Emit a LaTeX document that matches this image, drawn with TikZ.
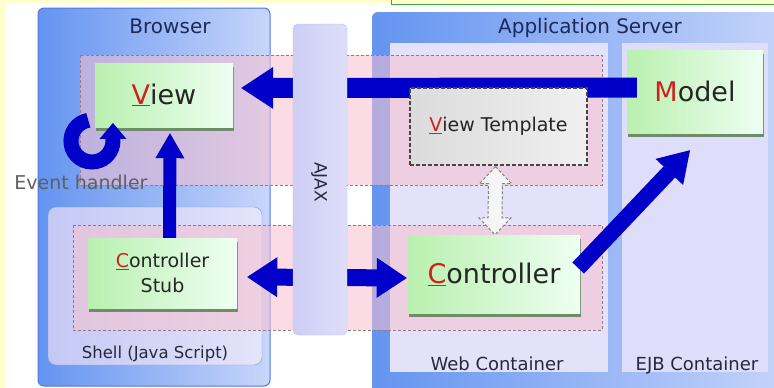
\documentclass[tikz,border=0pt]{standalone}
\usepackage{fontspec}
\setmainfont{DejaVu Sans}
\usetikzlibrary{arrows.meta,shadows,calc}
\definecolor{panelL}{RGB}{100,148,240}
\definecolor{panelR}{RGB}{200,214,250}
\definecolor{panelEdge}{RGB}{80,120,220}
\definecolor{contfill}{RGB}{228,226,250}
\definecolor{contfillB}{RGB}{222,222,250}
\definecolor{shellL}{RGB}{196,200,244}
\definecolor{shellR}{RGB}{228,228,250}
\definecolor{shellEdge}{RGB}{130,150,225}
\definecolor{bandpink}{RGB}{248,192,206}
\definecolor{banddash}{RGB}{150,120,135}
\definecolor{greenL}{RGB}{185,240,175}
\definecolor{greenR}{RGB}{238,255,242}
\definecolor{shadowgreen}{RGB}{110,140,105}
\definecolor{labelnavy}{RGB}{28,42,90}
\definecolor{contnavy}{RGB}{40,40,60}
\definecolor{initred}{RGB}{210,30,30}
\definecolor{arrowblue}{RGB}{0,0,200}
\definecolor{bgyellow}{RGB}{255,255,205}
\definecolor{topgreen}{RGB}{60,170,60}
\definecolor{ajaxL}{RGB}{206,206,246}
\definecolor{ajaxR}{RGB}{222,222,250}
\definecolor{ajaxEdge}{RGB}{190,190,235}
\definecolor{evgray}{RGB}{95,95,100}
\definecolor{dashgray}{RGB}{70,70,70}
\definecolor{dotgray}{RGB}{130,130,130}
\tikzset{
  greenbox/.style={shape=rectangle, inner sep=0pt, left color=greenL, right color=greenR, draw=none,
    drop shadow={fill=shadowgreen, opacity=1, shadow xshift=1pt, shadow yshift=-4pt},
    text=black!85, align=center},
  bigfont/.style={font=\fontsize{27}{32}\selectfont},
  midfont/.style={font=\fontsize{19}{25}\selectfont},
  panellabel/.style={font=\fontsize{20}{24}\selectfont, text=labelnavy, anchor=base, inner sep=0pt},
  contlabel/.style={font=\fontsize{18}{22}\selectfont, text=contnavy, anchor=base, inner sep=0pt},
  shelllabel/.style={font=\fontsize{16.5}{20}\selectfont, text=contnavy, anchor=base, inner sep=0pt},
  evlabel/.style={font=\fontsize{19}{22}\selectfont, text=evgray, anchor=base, inner sep=0pt},
  band/.style={fill=bandpink, fill opacity=0.55, draw=banddash, dash pattern=on 3pt off 2pt, line width=0.8pt},
  bluepen/.style={draw=arrowblue},
  vtempbox/.style={shape=rectangle, inner sep=0pt, left color=black!14, right color=black!6,
    draw=dashgray, dash pattern=on 4pt off 2pt, line width=1.2pt, text=black!85,
    font=\fontsize{19}{23}\selectfont},
  ajaxbar/.style={shape=rectangle, inner sep=0pt, rounded corners=5pt, left color=ajaxL, right color=ajaxR, draw=ajaxEdge},
  ajaxlabel/.style={font=\fontsize{17}{20}\selectfont, text=contnavy, inner sep=0pt},
  dotarrow/.style={fill=black!4, draw=dotgray, dash pattern=on 3pt off 2pt, line width=1pt}
}
\begin{document}
\begin{tikzpicture}[x=1pt,y=-1pt]
\useasboundingbox (0,0) rectangle (774,388);
\fill[white] (0,0) rectangle (774,388);
\fill[bgyellow] (0,0) rectangle (6,388);
\fill[bgyellow] (0,0) rectangle (392,3);
\filldraw[fill=bgyellow, draw=topgreen, line width=1pt] (391.5,-6) rectangle (780,4);

% panels
\shade[left color=panelL, right color=panelR, rounded corners=6pt] (38,8) rectangle (270,386);
\draw[panelEdge, line width=1pt, rounded corners=6pt] (38,8) rectangle (270,386);
\shade[left color=panelL, right color=panelR, rounded corners=6pt] (372,12) rectangle (800,400);
\fill[contfill] (390,43) rectangle (608,372);
\fill[contfillB] (622,43) rectangle (768,372);
\shade[left color=shellL, right color=shellR, rounded corners=8pt, draw=shellEdge] (48,207) rectangle (262,365);

% panel labels
\node[panellabel] (lbBrowser) at (170,33) {Browser};
\node[panellabel] (lbApp) at (590,33) {Application Server};
\node[contlabel] (lbWeb) at (497,370) {Web Container};
\node[contlabel] (lbEjb) at (697,370) {EJB Container};
\node[shelllabel] (lbShell) at (155,358) {Shell (Java Script)};

% bands
\path[band] (80,55) rectangle (602,185);
\path[band] (73,225) rectangle (602,330);

% boxes
\node[greenbox, bigfont, minimum width=138pt, minimum height=64pt] (view) at (164,95) {\textcolor{initred}{\underline{V}}iew};
\node[greenbox, midfont, minimum width=149pt, minimum height=70pt] (stub) at (162.5,273) {\textcolor{initred}{\underline{C}}ontroller\\Stub};
\node[greenbox, bigfont, minimum width=172pt, minimum height=78pt] (ctrl) at (494,274) {\textcolor{initred}{\underline{C}}ontroller};
\node[greenbox, bigfont, minimum width=136pt, minimum height=83pt] (model) at (695,91.5) {\textcolor{initred}{M}odel};

% blue arrows
\draw[bluepen, line width=20pt, -{Triangle[width=42pt,length=32pt,line width=0pt]}] ([shift={(10,-4)}]model.west) -- ([shift={(8,-7)}]view.east);
\draw[bluepen, line width=13pt, -{Triangle[width=29pt,length=25pt,line width=0pt]}] ([shift={(7,0)}]stub.north) -- ([shift={(6,6)}]view.south);
\draw[bluepen, line width=17pt, {Triangle[width=40pt,length=30pt,line width=0pt]}-{Triangle[width=40pt,length=30pt,line width=0pt]}] ([shift={(10,4)}]stub.east) -- ([shift={(-1,4)}]ctrl.west);
\draw[bluepen, line width=16pt, -{Triangle[width=38pt,length=30pt,line width=0pt]}] ([shift={(-2,-6)}]ctrl.east) -- ([shift={(-5,17)}]model.south);

% event handler loop
\draw[bluepen, line width=15pt, -{Triangle[width=27pt,length=16pt,line width=0pt]}] (88.3,120.3) arc[start angle=-100, end angle=-360, radius=21] -- ++(0,-18);
\node[evlabel] (evh) at (81,189) {Event handler};

% view template
\node[vtempbox, minimum width=177pt, minimum height=77pt] (vtemp) at (498.5,126.5) {\textcolor{initred}{\underline{V}}iew Template};

% dotted double arrow
\coordinate (dt) at ([shift={(-3,1)}]vtemp.south);
\coordinate (db) at ([shift={(1,0)}]ctrl.north);
\path[dotarrow] (dt) -- ($(dt)+(16,17)$) -- ($(dt)+(7,17)$) -- ($(db)+(7,-17)$) -- ($(db)+(16,-17)$) -- (db)
  -- ($(db)+(-16,-17)$) -- ($(db)+(-7,-17)$) -- ($(dt)+(-7,17)$) -- ($(dt)+(-16,17)$) -- cycle;

% AJAX bar
\node[ajaxbar, minimum width=54pt, minimum height=311pt] (ajax) at (320,179.5) {};
\node[ajaxlabel, rotate=-90] (ajaxtxt) at (319,182) {AJAX};
\end{tikzpicture}
\end{document}
